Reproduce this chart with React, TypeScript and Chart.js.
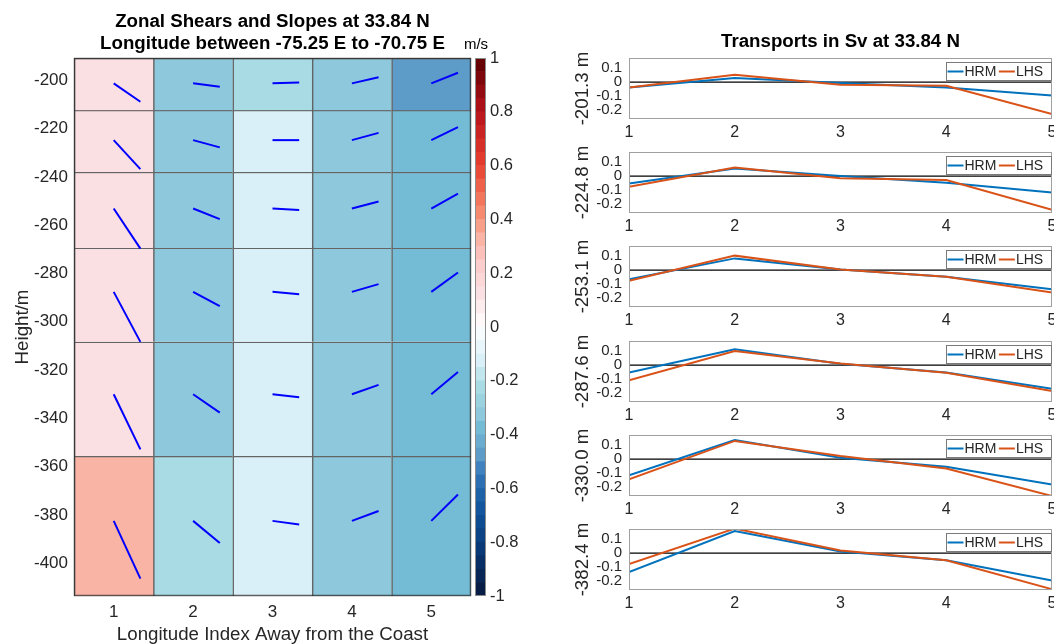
import React, { useEffect, useRef } from 'react';
import { Chart, registerables } from 'chart.js';

Chart.register(...registerables);

const FONT = "'Liberation Sans', Arial, Helvetica, sans-serif";
const TEXT = '#262626';

// ---------------- data ----------------
const longitudeIndex = [1, 2, 3, 4, 5];
const heightTicks = [-400, -380, -360, -340, -320, -300, -280, -260, -240, -220, -200];
const layerEdges = [-190.8, -212.4, -238.0, -269.4, -308.3, -355.6, -413.5];
const layerCenters = [-201.3, -224.8, -253.1, -287.6, -330.0, -382.4];

// zonal shear (m/s), one array per layer, columns = longitude index
const shearLayer1 = [0.12, -0.33, -0.23, -0.33, -0.48];
const shearLayer2 = [0.12, -0.33, -0.12, -0.33, -0.38];
const shearLayer3 = [0.14, -0.33, -0.12, -0.33, -0.38];
const shearLayer4 = [0.14, -0.33, -0.12, -0.33, -0.38];
const shearLayer5 = [0.14, -0.33, -0.12, -0.33, -0.38];
const shearLayer6 = [0.33, -0.23, -0.12, -0.33, -0.38];
const shearLayers = [shearLayer1, shearLayer2, shearLayer3, shearLayer4, shearLayer5, shearLayer6];

// slope segments: height change (m) over a fixed index step
const slopeStep = 0.336;
const slopeLayer1 = [-7.6, -1.4, 0.4, 2.5, 4.4];
const slopeLayer2 = [-12.0, -3.0, 0.0, 3.0, 5.4];
const slopeLayer3 = [-16.6, -4.4, -0.6, 2.9, 6.2];
const slopeLayer4 = [-20.7, -5.9, -1.0, 3.2, 8.0];
const slopeLayer5 = [-22.8, -7.6, -1.2, 3.9, 9.2];
const slopeLayer6 = [-23.9, -9.2, -1.5, 4.1, 10.9];
const slopeLayers = [slopeLayer1, slopeLayer2, slopeLayer3, slopeLayer4, slopeLayer5, slopeLayer6];

const colorbarTicks = [-1, -0.8, -0.6, -0.4, -0.2, 0, 0.2, 0.4, 0.6, 0.8, 1];

// transports (Sv)
const hrmLayer1 = [-0.039, 0.029, -0.007, -0.039, -0.098];
const hrmLayer2 = [-0.054, 0.056, 0.0, -0.049, -0.12];
const hrmLayer3 = [-0.066, 0.085, 0.005, -0.049, -0.139];
const hrmLayer4 = [-0.054, 0.115, 0.01, -0.054, -0.171];
const hrmLayer5 = [-0.117, 0.139, 0.01, -0.056, -0.185];
const hrmLayer6 = [-0.138, 0.16, 0.012, -0.052, -0.2];
const lhsLayer1 = [-0.039, 0.054, -0.02, -0.027, -0.232];
const lhsLayer2 = [-0.078, 0.063, -0.015, -0.029, -0.244];
const lhsLayer3 = [-0.078, 0.105, 0.005, -0.049, -0.163];
const lhsLayer4 = [-0.11, 0.102, 0.012, -0.056, -0.188];
const lhsLayer5 = [-0.146, 0.132, 0.022, -0.068, -0.268];
const lhsLayer6 = [-0.079, 0.178, 0.019, -0.052, -0.262];
const hrmLayers = [hrmLayer1, hrmLayer2, hrmLayer3, hrmLayer4, hrmLayer5, hrmLayer6];
const lhsLayers = [lhsLayer1, lhsLayer2, lhsLayer3, lhsLayer4, lhsLayer5, lhsLayer6];
const transportTicks = [-0.2, -0.1, 0, 0.1];
const transportRange = [-0.268, 0.175];
const zeroLevel = 0;

// ---------------- colormap (style) ----------------
const COLOR_STOPS: [number, string][] = [
  [-1.0, '#07183d'],
  [-0.9, '#082b5e'],
  [-0.8, '#093e7f'],
  [-0.7, '#0f5198'],
  [-0.6, '#2266ab'],
  [-0.525, '#3f82bf'],
  [-0.475, '#5d9cc9'],
  [-0.375, '#74bcd5'],
  [-0.325, '#8ec8dc'],
  [-0.225, '#a8dbe4'],
  [-0.125, '#daf0f8'],
  [-0.025, '#f6fbfd'],
  [0.025, '#fef8f8'],
  [0.125, '#fbe0e3'],
  [0.225, '#fbcdcd'],
  [0.325, '#f9b4a6'],
  [0.425, '#f68a6e'],
  [0.6, '#e8412f'],
  [0.8, '#b7121c'],
  [1.0, '#5a0000'],
];
const LEVELS = 40;
const STEP = 2 / LEVELS;

function hexToRgb(h: string) {
  const n = parseInt(h.slice(1), 16);
  return [(n >> 16) & 255, (n >> 8) & 255, n & 255];
}
function interpColor(v: number) {
  if (v <= COLOR_STOPS[0][0]) return COLOR_STOPS[0][1];
  for (let i = 1; i < COLOR_STOPS.length; i++) {
    if (v <= COLOR_STOPS[i][0]) {
      const [v0, c0] = COLOR_STOPS[i - 1];
      const [v1, c1] = COLOR_STOPS[i];
      const t = (v - v0) / (v1 - v0);
      const a = hexToRgb(c0);
      const b = hexToRgb(c1);
      const m = a.map((x, j) => Math.round(x + (b[j] - x) * t));
      return `rgb(${m[0]},${m[1]},${m[2]})`;
    }
  }
  return COLOR_STOPS[COLOR_STOPS.length - 1][1];
}
function levelColor(k: number) {
  return interpColor(-1 + (k + 0.5) * STEP);
}
function shearColor(v: number) {
  const k = Math.min(LEVELS - 1, Math.max(0, Math.floor((v + 1) / STEP)));
  return levelColor(k);
}

const fmt = (v: any) => String(v);

// ---------------- helpers ----------------
function ChartCanvas({ left, top, width, height, make }: any) {
  const ref = useRef<HTMLCanvasElement>(null);
  useEffect(() => {
    const chart = new Chart(ref.current as HTMLCanvasElement, make());
    return () => chart.destroy();
  }, []);
  return (
    <canvas
      ref={ref}
      width={width}
      height={height}
      style={{ position: 'absolute', left, top, width, height }}
    />
  );
}

function boxPlugin(color: string, width = 1) {
  return {
    id: 'boxPlugin',
    afterDatasetsDraw(chart: any) {
      const { ctx, chartArea: a } = chart;
      ctx.save();
      ctx.strokeStyle = color;
      ctx.lineWidth = width;
      ctx.strokeRect(Math.round(a.left) + 0.5, Math.round(a.top) + 0.5, Math.round(a.right - a.left) - 1, Math.round(a.bottom - a.top) - 1);
      ctx.restore();
    },
  };
}

function textPlugin(items: { text: string; x: (a: any) => number; y: number; font: string }[]) {
  return {
    id: 'textPlugin',
    afterDraw(chart: any) {
      const { ctx, chartArea } = chart;
      ctx.save();
      ctx.fillStyle = '#000';
      ctx.textAlign = 'center';
      ctx.textBaseline = 'alphabetic';
      items.forEach((it) => {
        ctx.font = it.font;
        ctx.fillText(it.text, it.x(chartArea), it.y);
      });
      ctx.restore();
    },
  };
}

const legendPlugin = {
  id: 'panelLegend',
  afterDraw(chart: any) {
    const { ctx, chartArea } = chart;
    const items = chart.data.datasets.filter((d: any) => d.label);
    ctx.save();
    ctx.font = `14px ${FONT}`;
    const lineLen = 16, gap = 1, between = 2.5, padL = 1.5, padR = 8;
    const widths = items.map((d: any) => ctx.measureText(d.label).width);
    const w = padL + widths.reduce((s: number, tw: number) => s + lineLen + gap + tw, 0) + between * (items.length - 1) + padR;
    const h = 18;
    const right = chartArea.right - 1;
    const left = Math.round(right - w);
    const top = Math.round(chartArea.top + 4);
    ctx.fillStyle = '#fff';
    ctx.fillRect(left, top, w, h);
    ctx.strokeStyle = '#7a7a7a';
    ctx.lineWidth = 1;
    ctx.strokeRect(left + 0.5, top + 0.5, Math.round(w), h);
    let x = left + padL;
    const cy = top + h / 2 + 0.5;
    items.forEach((d: any, i: number) => {
      ctx.strokeStyle = d.borderColor;
      ctx.lineWidth = 2;
      ctx.beginPath();
      ctx.moveTo(x, cy);
      ctx.lineTo(x + lineLen, cy);
      ctx.stroke();
      x += lineLen + gap;
      ctx.fillStyle = TEXT;
      ctx.textAlign = 'left';
      ctx.textBaseline = 'middle';
      ctx.fillText(d.label, x, cy + 0.5);
      x += widths[i] + between;
    });
    ctx.restore();
  },
};

// ---------------- chart configs ----------------
const HEAT_LEFT = 0, HEAT_W = 480, HEAT_H = 644;
const CELL_EDGE = 'rgba(40,40,40,0.72)';

function makeHeatmap() {
  const barSets = shearLayers.map((row, j) => ({
    type: 'bar',
    data: longitudeIndex.map((x) => ({ x, y: [layerEdges[j + 1], layerEdges[j]] })),
    backgroundColor: row.map(shearColor),
    borderColor: CELL_EDGE,
    borderWidth: { top: 1.5, left: 1.5, right: 0, bottom: 0 },
    borderSkipped: false,
    grouped: false,
    barPercentage: 1,
    categoryPercentage: 1,
    order: 2,
  }));
  const slopeSets: any[] = [];
  slopeLayers.forEach((row, j) => {
    row.forEach((dy, i) => {
      slopeSets.push({
        type: 'line',
        data: [
          { x: longitudeIndex[i], y: layerCenters[j] },
          { x: longitudeIndex[i] + slopeStep, y: layerCenters[j] + dy },
        ],
        borderColor: '#0000ff',
        borderWidth: 2,
        pointRadius: 0,
        tension: 0,
        order: 1,
      });
    });
  });
  return {
    type: 'bar',
    data: { datasets: [...barSets, ...slopeSets] },
    options: {
      animation: false,
      responsive: false,
      maintainAspectRatio: false,
      layout: { padding: { top: 58, left: 0, right: HEAT_W - 471, bottom: 0 } },
      plugins: { legend: { display: false }, tooltip: { enabled: false } },
      scales: {
        x: {
          type: 'linear',
          min: 0.5,
          max: 5.5,
          offset: false,
          afterBuildTicks: (s: any) => { s.ticks = longitudeIndex.map((v) => ({ value: v })); },
          afterFit: (s: any) => { s.height = 48; },
          grid: { display: false, drawTicks: false, offset: false },
          border: { display: false },
          ticks: { padding: 6, color: TEXT, font: { family: FONT, size: 17 }, callback: fmt, autoSkip: false, maxRotation: 0 },
          title: { display: true, text: 'Longitude Index Away from the Coast', color: TEXT, font: { family: FONT, size: 18.7, lineHeight: 1 }, padding: { top: 0, bottom: 0 } },
        },
        y: {
          type: 'linear',
          min: layerEdges[layerEdges.length - 1],
          max: layerEdges[0],
          afterBuildTicks: (s: any) => { s.ticks = heightTicks.map((v) => ({ value: v })); },
          afterFit: (s: any) => { s.width = 74; },
          grid: { display: false, drawTicks: false },
          border: { display: false },
          ticks: { padding: 6, color: TEXT, font: { family: FONT, size: 17 }, callback: fmt, autoSkip: false },
          title: { display: true, text: 'Height/m', color: TEXT, font: { family: FONT, size: 18.7 }, padding: { top: 11.5, bottom: 0 } },
        },
      },
    },
    plugins: [
      boxPlugin(CELL_EDGE, 1.5),
      textPlugin([
        { text: 'Zonal Shears and Slopes at 33.84 N', x: (a) => (a.left + a.right) / 2, y: 26.5, font: `bold 18.7px ${FONT}` },
        { text: 'Longitude between -75.25 E to -70.75 E', x: (a) => (a.left + a.right) / 2, y: 48.5, font: `bold 18.7px ${FONT}` },
      ]),
    ],
  };
}

const CB_LEFT = 460, CB_W = 80;
function makeColorbar() {
  const levels = Array.from({ length: LEVELS }, (_, k) => k);
  return {
    type: 'bar',
    data: {
      labels: ['m/s'],
      datasets: levels.map((k) => ({
        data: [[-1 + k * STEP, -1 + (k + 1) * STEP]],
        backgroundColor: levelColor(k),
        borderWidth: 0,
        grouped: false,
        barPercentage: 1,
        categoryPercentage: 1,
      })),
    },
    options: {
      animation: false,
      responsive: false,
      maintainAspectRatio: false,
      layout: { padding: { top: 58, left: 15, right: 0, bottom: 48 } },
      plugins: { legend: { display: false }, tooltip: { enabled: false } },
      scales: {
        x: { display: false },
        y: {
          position: 'right',
          min: -1,
          max: 1,
          afterBuildTicks: (s: any) => { s.ticks = colorbarTicks.map((v) => ({ value: v })); },
          afterFit: (s: any) => { s.width = 54; },
          grid: { display: false, drawTicks: false },
          border: { display: false },
          ticks: { padding: 4, color: TEXT, font: { family: FONT, size: 16.5 }, callback: fmt, autoSkip: false },
        },
      },
    },
    plugins: [
      boxPlugin('#8c8c8c'),
      textPlugin([{ text: 'm/s', x: () => 476 - CB_LEFT, y: 48.5, font: `15px ${FONT}` }]),
    ],
  };
}

const PANEL_LEFT = 560, PANEL_W = 510, PANEL_PAD_TOP = 38, PANEL_H = 38 + 61 + 30;
const panelTop = (k: number) => 58 + k * 94.2 - PANEL_PAD_TOP;

function makePanel(k: number) {
  const plugins: any[] = [boxPlugin('#a0a0a0'), legendPlugin];
  if (k === 0) {
    plugins.push(
      textPlugin([{ text: 'Transports in Sv at 33.84 N', x: (a) => (a.left + a.right) / 2, y: 46.5 - panelTop(0), font: `bold 18.7px ${FONT}` }])
    );
  }
  return {
    type: 'line',
    data: {
      datasets: [
        { label: 'HRM', data: longitudeIndex.map((x, i) => ({ x, y: hrmLayers[k][i] })), borderColor: '#0072BD', borderWidth: 2, pointRadius: 0, tension: 0, order: 2 },
        { label: 'LHS', data: longitudeIndex.map((x, i) => ({ x, y: lhsLayers[k][i] })), borderColor: '#D95319', borderWidth: 2, pointRadius: 0, tension: 0, order: 1 },
        { label: '', data: [{ x: longitudeIndex[0], y: zeroLevel }, { x: longitudeIndex[longitudeIndex.length - 1], y: zeroLevel }], borderColor: '#000000', borderWidth: 1.2, pointRadius: 0, order: 3 },
      ],
    },
    options: {
      animation: false,
      responsive: false,
      maintainAspectRatio: false,
      layout: { padding: { top: PANEL_PAD_TOP, left: 0, right: PANEL_W - (1052 - PANEL_LEFT), bottom: 0 } },
      plugins: { legend: { display: false }, tooltip: { enabled: false } },
      scales: {
        x: {
          type: 'linear',
          min: longitudeIndex[0],
          max: longitudeIndex[longitudeIndex.length - 1],
          afterBuildTicks: (s: any) => { s.ticks = longitudeIndex.map((v) => ({ value: v })); },
          afterFit: (s: any) => { s.height = 30; },
          grid: { display: false, drawTicks: false },
          border: { display: false },
          ticks: { padding: 4, color: TEXT, font: { family: FONT, size: 16 }, callback: fmt, autoSkip: false, maxRotation: 0 },
        },
        y: {
          type: 'linear',
          min: transportRange[0],
          max: transportRange[1],
          afterBuildTicks: (s: any) => { s.ticks = transportTicks.map((v) => ({ value: v })); },
          afterFit: (s: any) => { s.width = 69; },
          grid: { display: false, drawTicks: false },
          border: { display: false },
          ticks: { padding: 7, color: TEXT, font: { family: FONT, size: 15, lineHeight: 1 }, callback: fmt, autoSkip: false },
          title: { display: true, text: `${layerCenters[k].toFixed(1)} m`, color: TEXT, font: { family: FONT, size: 18.7 }, padding: { top: 12, bottom: 0 } },
        },
      },
    },
    plugins,
  };
}

export default function App() {
  return (
    <div style={{ position: 'absolute', left: 0, top: 0, width: 1054, height: 644, overflow: 'hidden', background: '#ffffff' }}>
      <ChartCanvas left={HEAT_LEFT} top={0} width={HEAT_W} height={HEAT_H} make={makeHeatmap} />
      <ChartCanvas left={CB_LEFT} top={0} width={CB_W} height={644} make={makeColorbar} />
      {layerCenters.map((_, k) => (
        <ChartCanvas key={k} left={PANEL_LEFT} top={panelTop(k)} width={PANEL_W} height={PANEL_H} make={() => makePanel(k)} />
      ))}
    </div>
  );
}
